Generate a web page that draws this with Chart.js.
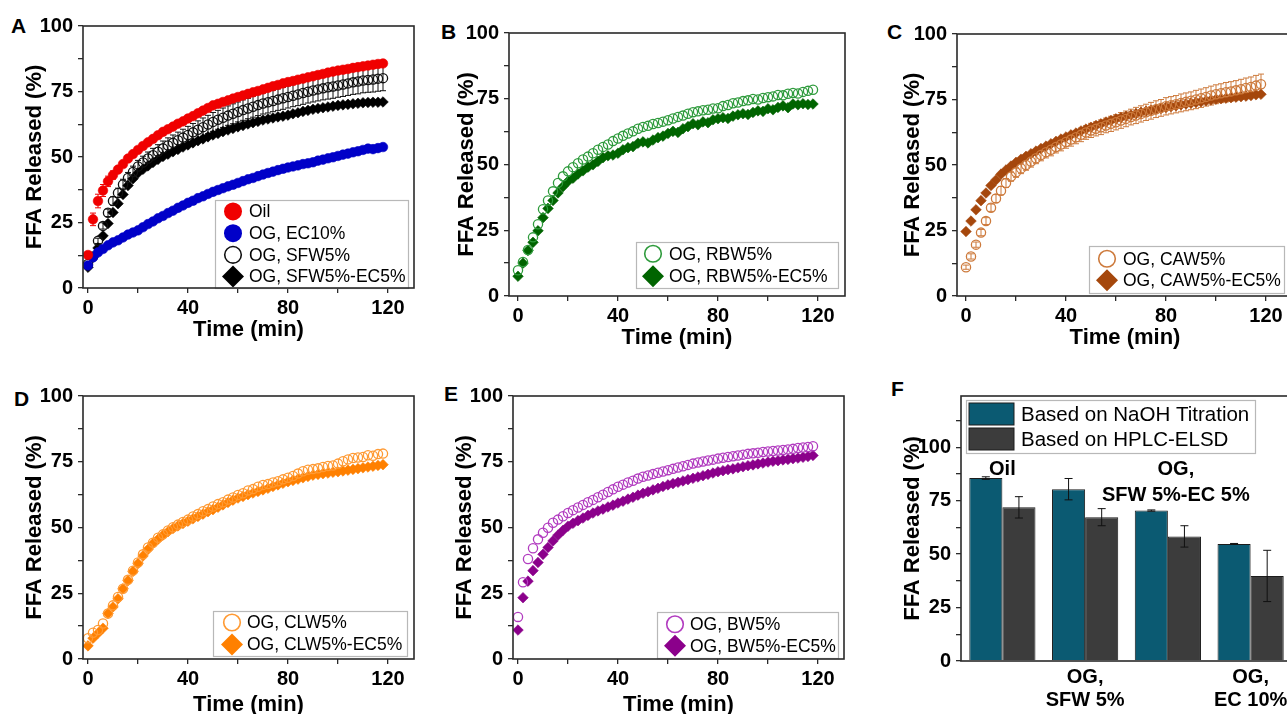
<!DOCTYPE html>
<html>
<head>
<meta charset="utf-8">
<title>FFA release</title>
<script src="https://cdn.jsdelivr.net/npm/chart.js"></script>
<style>
  html, body { margin: 0; padding: 0; background: #fff; overflow: hidden; }
  body { width: 1287px; height: 714px; position: relative; }
  canvas.panel { position: absolute; }
  .tag { position: absolute; font: bold 21px "Liberation Sans", Arial, sans-serif; color: #000; line-height: 1; }
</style>
</head>
<body>
<div class="tag" style="left:11px;top:15px">A</div>
<div class="tag" style="left:441px;top:21px">B</div>
<div class="tag" style="left:887px;top:21px">C</div>
<div class="tag" style="left:14px;top:388px">D</div>
<div class="tag" style="left:444px;top:383px">E</div>
<div class="tag" style="left:891px;top:378px">F</div>

<canvas id="chartA" class="panel"></canvas>
<canvas id="chartB" class="panel"></canvas>
<canvas id="chartC" class="panel"></canvas>
<canvas id="chartD" class="panel"></canvas>
<canvas id="chartE" class="panel"></canvas>
<canvas id="chartF" class="panel"></canvas>

<script>
// sampling times (min)
const time = [0, 2, 4, 6, 8, 10, 12, 14, 16, 18, 20, 22, 24, 26, 28, 30, 32, 34, 36, 38,
  40, 42, 44, 46, 48, 50, 52, 54, 56, 58, 60, 62, 64, 66, 68, 70, 72, 74, 76, 78,
  80, 82, 84, 86, 88, 90, 92, 94, 96, 98, 100, 102, 104, 106, 108, 110, 112, 114, 116, 118];

// FFA released (%)
const oil = [12.6, 26.2, 33.2, 37.2, 40.7, 43.1, 45.2, 47.3, 49.4, 51.1,
  52.7, 54.2, 55.6, 56.9, 58.3, 59.6, 60.6, 61.6, 62.7, 63.6,
  64.7, 65.6, 66.7, 67.7, 68.7, 69.7, 70.3, 71.0, 71.6, 72.3,
  72.9, 73.5, 74.1, 74.7, 75.2, 75.8, 76.4, 77.0, 77.5, 78.1,
  78.6, 79.0, 79.5, 79.9, 80.4, 80.8, 81.3, 81.7, 82.2, 82.6,
  83.0, 83.3, 83.6, 84.0, 84.3, 84.6, 84.9, 85.2, 85.5, 85.7];
const oilErr = [1.2, 2.4, 2.6, 2.3, 2.0, 1.6, 1.2, 1.0, 0.8, 0.6];

const ec10 = [8.6, 11.7, 13.6, 14.9, 16.3, 17.4, 18.2, 19.3, 20.4, 21.2,
  22.0, 23.2, 24.4, 25.4, 26.6, 27.5, 28.6, 29.5, 30.6, 31.5,
  32.5, 33.3, 34.3, 35.0, 35.9, 36.7, 37.4, 38.1, 38.8, 39.4,
  40.1, 40.8, 41.5, 42.0, 42.7, 43.3, 43.9, 44.4, 45.0, 45.5,
  46.0, 46.4, 46.8, 47.3, 47.6, 48.0, 48.6, 49.0, 49.5, 49.9,
  50.4, 50.9, 51.3, 51.8, 52.2, 52.7, 53.2, 53.0, 53.4, 53.8];

const sfw5 = [9.2, 12.0, 18.0, 23.7, 28.7, 33.2, 36.3, 39.5, 42.0, 44.3,
  46.4, 47.9, 49.4, 50.7, 52.0, 53.3, 54.4, 55.4, 56.4, 57.4,
  58.4, 59.4, 60.4, 61.4, 62.4, 63.4, 64.2, 65.0, 65.8, 66.5,
  67.2, 67.9, 68.5, 69.2, 69.8, 70.4, 70.9, 71.4, 71.9, 72.4,
  72.9, 73.4, 73.9, 74.4, 74.9, 75.4, 75.8, 76.2, 76.6, 76.9,
  77.3, 77.7, 78.1, 78.5, 78.8, 79.2, 79.4, 79.6, 79.9, 80.1];
const sfw5Err = [0.5, 0.8, 1.0, 1.2, 1.4, 1.6, 1.8, 2.0, 2.1, 2.2,
  2.3, 2.4, 2.5, 2.6, 2.7, 2.8, 2.9, 3.0, 3.1, 3.2,
  3.3, 3.4, 3.4, 3.5, 3.5, 3.6, 3.6, 3.7, 3.7, 3.8,
  3.8, 3.9, 3.9, 4.0, 4.0, 4.0, 4.1, 4.1, 4.1, 4.2,
  4.2, 4.2, 4.3, 4.3, 4.3, 4.4, 4.4, 4.4, 4.5, 4.5,
  4.5, 4.6, 4.6, 4.6, 4.7, 4.7, 4.7, 4.8, 4.8, 4.8];

const sfw5ec5 = [7.9, 11.7, 15.3, 19.9, 24.6, 28.8, 32.2, 35.7, 39.1, 41.7,
  43.9, 45.3, 46.6, 47.9, 49.1, 50.2, 51.1, 52.0, 52.9, 53.8,
  54.6, 55.4, 56.2, 56.9, 57.7, 58.4, 59.0, 59.7, 60.3, 60.9,
  61.5, 62.0, 62.6, 63.1, 63.6, 64.1, 64.5, 64.9, 65.3, 65.6,
  66.0, 66.5, 66.9, 67.4, 67.8, 68.2, 68.5, 68.8, 69.1, 69.4,
  69.7, 69.9, 70.1, 70.3, 70.5, 70.7, 70.8, 70.9, 70.9, 71.0];

const rbw5 = [9.8, 12.9, 17.5, 22.3, 27.3, 33.0, 36.3, 39.8, 43.0, 45.5,
  47.4, 49.0, 50.5, 51.9, 53.0, 54.3, 55.6, 56.7, 57.6, 58.9,
  59.9, 60.9, 61.8, 62.6, 63.6, 64.3, 64.7, 65.4, 65.8, 66.3,
  66.8, 67.5, 68.1, 68.6, 69.3, 69.9, 70.2, 70.6, 70.8, 71.3,
  71.4, 72.2, 72.6, 73.3, 73.6, 74.1, 74.4, 74.9, 74.7, 75.3,
  75.6, 75.9, 76.4, 76.3, 76.9, 77.2, 77.0, 77.6, 78.0, 78.4];

const rbw5ec5 = [7.5, 12.5, 17.3, 20.4, 24.8, 29.8, 33.3, 36.3, 39.2, 41.6,
  43.6, 44.8, 46.4, 47.6, 49.0, 49.9, 51.2, 52.6, 53.3, 53.6,
  54.3, 55.6, 56.4, 56.8, 58.1, 58.6, 58.2, 59.3, 60.2, 60.8,
  61.8, 62.6, 62.2, 63.6, 64.4, 65.5, 65.1, 66.2, 65.9, 67.0,
  67.4, 67.8, 67.5, 68.4, 68.9, 69.3, 69.0, 69.8, 70.4, 70.2,
  71.2, 70.8, 71.7, 72.3, 71.6, 73.0, 72.7, 73.1, 72.8, 73.0];

const caw5 = [11.0, 15.1, 19.6, 24.2, 28.6, 33.7, 37.2, 40.2, 43.1, 45.6,
  47.2, 48.7, 50.0, 51.3, 52.6, 53.8, 54.9, 55.8, 56.9, 57.8,
  58.8, 59.7, 60.6, 61.5, 62.4, 63.2, 63.8, 64.4, 65.1, 65.7,
  66.3, 67.0, 67.6, 68.3, 68.9, 69.5, 70.1, 70.7, 71.3, 71.8,
  72.4, 72.8, 73.2, 73.7, 74.1, 74.5, 75.0, 75.5, 76.0, 76.5,
  77.0, 77.4, 77.8, 78.1, 78.5, 78.9, 79.4, 79.8, 80.3, 80.8];
const caw5Err = [0.8, 1.0, 1.0, 1.2, 1.3, 1.4, 1.5, 1.6, 1.7, 1.8,
  1.9, 2.0, 2.0, 2.1, 2.1, 2.2, 2.2, 2.3, 2.3, 2.4,
  2.4, 2.5, 2.5, 2.6, 2.6, 2.7, 2.7, 2.8, 2.8, 2.9,
  2.9, 3.0, 3.0, 3.0, 3.1, 3.1, 3.1, 3.2, 3.2, 3.2,
  3.3, 3.3, 3.3, 3.4, 3.4, 3.4, 3.5, 3.5, 3.5, 3.6,
  3.6, 3.6, 3.7, 3.7, 3.7, 3.8, 3.8, 3.8, 3.9, 3.9];

const caw5ec5 = [24.6, 28.6, 32.9, 36.4, 39.3, 42.2, 44.3, 46.5, 48.1, 49.6,
  51.0, 52.2, 53.3, 54.3, 55.3, 56.3, 57.2, 58.1, 59.0, 59.9,
  60.7, 61.5, 62.2, 63.0, 63.7, 64.4, 65.1, 65.7, 66.4, 67.0,
  67.6, 68.1, 68.6, 69.1, 69.6, 70.1, 70.5, 70.9, 71.3, 71.6,
  72.0, 72.3, 72.6, 73.0, 73.3, 73.6, 73.9, 74.2, 74.5, 74.8,
  75.1, 75.3, 75.5, 75.7, 75.9, 76.1, 76.3, 76.5, 76.8, 77.0];

const clw5 = [7.9, 10.0, 11.0, 13.5, 17.3, 20.4, 23.6, 26.7, 30.1, 33.6,
  36.7, 39.8, 42.4, 44.2, 46.1, 47.4, 48.9, 50.1, 51.1, 52.1,
  53.0, 54.2, 55.1, 56.2, 57.0, 58.0, 58.9, 59.6, 60.6, 61.4,
  62.4, 63.0, 64.1, 64.6, 65.5, 66.2, 66.5, 67.1, 67.6, 68.3,
  68.9, 69.6, 70.5, 71.4, 72.0, 72.2, 72.5, 73.0, 73.4, 73.6,
  74.3, 75.2, 75.9, 76.4, 76.6, 76.8, 77.5, 77.3, 77.9, 78.1];

const clw5ec5 = [5.0, 7.9, 9.8, 11.7, 17.3, 19.8, 22.9, 26.7, 29.8, 33.3,
  36.3, 39.2, 41.7, 43.9, 45.5, 47.1, 48.4, 49.6, 50.6, 51.5,
  52.4, 53.3, 54.2, 55.1, 56.0, 56.8, 57.7, 58.6, 59.5, 60.4,
  61.2, 61.8, 62.5, 63.1, 63.7, 64.3, 64.9, 65.6, 66.2, 66.8,
  67.4, 67.9, 68.4, 68.9, 69.4, 69.9, 70.2, 70.5, 70.7, 71.0,
  71.2, 71.5, 71.8, 72.1, 72.4, 72.7, 73.0, 73.3, 73.6, 73.9];

const bw5 = [16.0, 29.2, 38.0, 42.1, 45.5, 48.0, 49.9, 51.8, 53.0, 54.3,
  55.5, 56.6, 57.6, 58.6, 59.6, 60.5, 61.5, 62.5, 63.5, 64.5,
  65.5, 66.3, 67.1, 67.8, 68.6, 69.3, 69.8, 70.3, 70.8, 71.3,
  71.8, 72.3, 72.8, 73.3, 73.8, 74.3, 74.7, 75.1, 75.5, 75.8,
  76.2, 76.5, 76.8, 77.1, 77.4, 77.7, 78.0, 78.2, 78.4, 78.7,
  78.9, 79.1, 79.3, 79.5, 79.7, 79.9, 80.2, 80.4, 80.6, 80.9];

const bw5ec5 = [11.0, 23.3, 29.6, 33.6, 36.7, 39.8, 42.4, 44.9, 47.1, 48.9,
  50.5, 51.6, 52.6, 53.6, 54.6, 55.5, 56.3, 57.0, 57.8, 58.5,
  59.3, 60.0, 60.8, 61.5, 62.3, 63.0, 63.6, 64.3, 64.9, 65.6,
  66.2, 66.7, 67.2, 67.7, 68.2, 68.7, 69.2, 69.7, 70.2, 70.7,
  71.2, 71.6, 72.0, 72.3, 72.7, 73.1, 73.5, 73.8, 74.2, 74.5,
  74.9, 75.2, 75.4, 75.7, 75.9, 76.2, 76.4, 76.7, 77.0, 77.4];

// end-point comparison (panel F)
const fGroups = ['Oil', ['OG,', 'SFW 5%'], ['OG,', 'SFW 5%-EC 5%'], ['OG,', 'EC 10%']];
const titration = [85.6, 80.4, 70.4, 54.8];
const titrationErr = [0.6, 5.0, 0.3, 0.2];
const hplc = [71.9, 67.3, 58.3, 39.8];
const hplcErr = [5.0, 4.0, 5.0, 12.0];

const FONT = '"Liberation Sans", Arial, sans-serif';
Chart.defaults.font.family = FONT;
Chart.defaults.color = '#000';

const AXIS_W = 80, XAXIS_H = 60, TOP_PAD = 14, RIGHT_PAD = 6;
const INK = '#2a2a2a';

// box around the plotting area
const frame = {
  id: 'frame',
  afterDraw(chart) {
    const { ctx, chartArea: a } = chart;
    ctx.save();
    ctx.strokeStyle = INK;
    ctx.lineWidth = 1.6;
    ctx.strokeRect(a.left, a.top, a.right - a.left, a.bottom - a.top);
    ctx.restore();
  }
};

function drawErrors(chart) {
  const { ctx } = chart;
  const ys = chart.scales.y;
  chart.data.datasets.forEach((ds, i) => {
    if (!ds.errors) return;
    const meta = chart.getDatasetMeta(i);
    ctx.save();
    ctx.strokeStyle = ds.errorColor || ds.borderColor;
    ctx.lineWidth = 1;
    meta.data.forEach((el, j) => {
      const e = ds.errors[j];
      if (!e) return;
      const v = typeof ds.data[j] === 'object' ? ds.data[j].y : ds.data[j];
      const yt = ys.getPixelForValue(v + e), yb = ys.getPixelForValue(v - e);
      const c = ds.capHalf || 3;
      ctx.beginPath();
      ctx.moveTo(el.x, yt); ctx.lineTo(el.x, yb);
      ctx.moveTo(el.x - c, yt); ctx.lineTo(el.x + c, yt);
      ctx.moveTo(el.x - c, yb); ctx.lineTo(el.x + c, yb);
      ctx.stroke();
    });
    ctx.restore();
  });
}

// scatter: whiskers under the symbols; bars: on top
const errorBars = {
  id: 'errorBars',
  beforeDatasetsDraw(chart) { if (chart.config.type === 'scatter') drawErrors(chart); },
  afterDatasetsDraw(chart) { if (chart.config.type !== 'scatter') drawErrors(chart); }
};

function marker(ctx, kind, x, y, r, color, lw) {
  ctx.beginPath();
  if (kind === 'diamond') {
    ctx.moveTo(x - r, y); ctx.lineTo(x, y - r); ctx.lineTo(x + r, y); ctx.lineTo(x, y + r);
    ctx.closePath();
  } else {
    ctx.arc(x, y, r, 0, Math.PI * 2);
  }
  if (kind === 'open') {
    ctx.strokeStyle = color; ctx.lineWidth = lw; ctx.stroke();
  } else {
    ctx.fillStyle = color; ctx.fill();
  }
}

// legend drawn inside the plot, framed
const boxLegend = {
  id: 'boxLegend',
  afterDatasetsDraw(chart, args, opts) {
    if (!opts || !opts.box) return;
    const { ctx, chartArea: a } = chart;
    const [bx, by, bw, bh] = opts.box;
    const x0 = a.left + bx, y0 = a.top + by;
    ctx.save();
    ctx.fillStyle = '#fff';
    ctx.fillRect(x0, y0, bw, bh);
    ctx.strokeStyle = '#b8b8b8';
    ctx.lineWidth = 1.2;
    ctx.strokeRect(x0 + 0.5, y0 + 0.5, bw, bh);
    const sets = chart.data.datasets;
    const first = y0 + (bh - sets.length * opts.rowH) / 2 + opts.rowH / 2;
    sets.forEach((ds, i) => {
      const y = first + i * opts.rowH;
      if (opts.swatch) {
        const [sw, sh] = opts.swatch;
        ctx.fillStyle = ds.backgroundColor;
        ctx.fillRect(x0 + opts.markX, y - sh / 2, sw, sh);
        ctx.strokeStyle = '#1c1c1c';
        ctx.lineWidth = 1;
        ctx.strokeRect(x0 + opts.markX, y - sh / 2, sw, sh);
      } else {
        const r = ds.kind === 'diamond' ? 11 : ds.kind === 'open' ? 8.3 : 9;
        marker(ctx, ds.kind, x0 + opts.markX, y, r, ds.borderColor, 1.6);
      }
      ctx.fillStyle = '#000';
      ctx.font = opts.font;
      ctx.textBaseline = 'middle';
      ctx.textAlign = 'left';
      ctx.fillText(ds.label, x0 + opts.textX, y + 1);
    });
    ctx.restore();
  }
};

// group names written above the bars
const innerLabels = {
  id: 'innerLabels',
  afterDatasetsDraw(chart, args, opts) {
    if (!opts || !opts.show) return;
    const { ctx } = chart;
    const xs = chart.scales.x, ys = chart.scales.y;
    ctx.save();
    ctx.font = opts.font;
    ctx.fillStyle = '#000';
    ctx.textAlign = 'center';
    ctx.textBaseline = 'middle';
    opts.show.forEach(([idx, dx]) => {
      const lines = [].concat(chart.data.labels[idx]);
      const x = xs.getPixelForValue(idx) + dx;
      const y = ys.getPixelForValue(opts.at);
      lines.forEach((t, k) => ctx.fillText(t, x, y + k * opts.lineH));
    });
    ctx.restore();
  }
};

function place(cv, area) {
  cv.width = area.R - area.L + AXIS_W + RIGHT_PAD;
  cv.height = area.B - area.T + TOP_PAD + XAXIS_H;
  cv.style.left = (area.L - AXIS_W) + 'px';
  cv.style.top = (area.T - TOP_PAD) + 'px';
}

const tickFont = { size: 20, weight: 'bold' };
const titleFont = { size: 22, weight: 'bold' };
const tickGrid = { drawOnChartArea: false, drawTicks: true, tickLength: 5, color: INK, lineWidth: 1.3 };

function yAxis(max, titlePad, labelMax) {
  return {
    min: 0, max,
    border: { display: false },
    grid: tickGrid,
    ticks: {
      stepSize: 12.5, autoSkip: false, padding: 5, font: tickFont, color: '#000',
      includeBounds: false,
      callback: v => (v % 25 === 0 && v <= labelMax) ? v : ''
    },
    title: { display: true, text: 'FFA Released (%)', font: titleFont, color: '#000', padding: { top: titlePad, bottom: 0 } },
    afterFit(s) { s.width = AXIS_W; }
  };
}

function timeAxis(min, max, titlePad) {
  return {
    type: 'linear', min, max,
    border: { display: false },
    grid: tickGrid,
    ticks: {
      stepSize: 20, autoSkip: false, includeBounds: false, maxRotation: 0,
      padding: 3, font: tickFont, color: '#000',
      callback: v => (v % 40 === 0) ? v : ''
    },
    title: { display: true, text: 'Time (min)', font: titleFont, color: '#000', padding: { top: 0, bottom: titlePad } },
    afterFit(s) { s.height = XAXIS_H; }
  };
}

function series(label, values, color, kind, errors) {
  return {
    label, kind, errors,
    data: time.map((t, i) => ({ x: t, y: values[i] })),
    pointStyle: kind === 'diamond' ? 'rectRot' : 'circle',
    pointRadius: kind === 'diamond' ? 5.3 : kind === 'open' ? 4.6 : 4.8,
    backgroundColor: kind === 'open' ? 'rgba(255,255,255,0)' : color,
    borderColor: color,
    borderWidth: kind === 'open' ? 1.3 : 0.6,
    capHalf: 3
  };
}

function timePanel(id, area, xMin, xMax, datasets, legend, yPad, xPad) {
  const cv = document.getElementById(id);
  place(cv, area);
  return new Chart(cv, {
    type: 'scatter',
    data: { datasets },
    options: {
      responsive: false, animation: false, devicePixelRatio: 1,
      layout: { padding: { top: TOP_PAD, right: RIGHT_PAD, left: 0, bottom: 0 } },
      plugins: { legend: { display: false }, tooltip: { enabled: false }, boxLegend: legend },
      scales: { x: timeAxis(xMin, xMax, xPad), y: yAxis(100, yPad, 100) }
    },
    plugins: [errorBars, boxLegend, frame]
  });
}

const legendFont = '17.5px ' + FONT;

timePanel('chartA', { L: 83, T: 23, R: 414, B: 288 }, -2, 130.4, [
  series('Oil', oil, '#f00000', 'dot', oilErr),
  series('OG, EC10%', ec10, '#0000c8', 'dot'),
  series('OG, SFW5%', sfw5, '#111111', 'open', sfw5Err),
  series('OG, SFW5%-EC5%', sfw5ec5, '#000000', 'diamond')
], { box: [132, 174, 193, 88], rowH: 21.7, markX: 18, textX: 34, font: legendFont }, 18.8, 4.8);

timePanel('chartB', { L: 509, T: 30, R: 845, B: 296 }, -3.6, 130.8, [
  series('OG, RBW5%', rbw5, '#2e9b3c', 'open'),
  series('OG, RBW5%-EC5%', rbw5ec5, '#006400', 'diamond')
], { box: [127, 209, 202, 46], rowH: 22.5, markX: 17, textX: 33, font: legendFont }, 24.8, 4.8);

timePanel('chartC', { L: 957, T: 31, R: 1293, B: 296 }, -3.6, 130.8, [
  series('OG, CAW5%', caw5, '#cd7a3c', 'open', caw5Err),
  series('OG, CAW5%-EC5%', caw5ec5, '#a5470c', 'diamond')
], { box: [132, 212, 195, 47], rowH: 21.5, markX: 18, textX: 34, font: legendFont }, 22.8, 4.8);

timePanel('chartD', { L: 83, T: 393, R: 414, B: 659 }, -2, 130.4, [
  series('OG, CLW5%', clw5, '#ff9a33', 'open'),
  series('OG, CLW5%-EC5%', clw5ec5, '#ff8000', 'diamond')
], { box: [130, 215, 194, 45], rowH: 22, markX: 19, textX: 34, font: legendFont }, 18.8, 1);

timePanel('chartE', { L: 513, T: 393, R: 844, B: 659 }, -2, 130.4, [
  series('OG, BW5%', bw5, '#b23cc0', 'open'),
  series('OG, BW5%-EC5%', bw5ec5, '#8b008b', 'diamond')
], { box: [144, 216, 181, 46], rowH: 21.5, markX: 18, textX: 33, font: legendFont }, 18.8, 1);

// panel F: bars with error whiskers
(function () {
  const area = { L: 961, T: 393, R: 1292, B: 661 };
  const cv = document.getElementById('chartF');
  place(cv, area);
  const groupFont = { size: 20, weight: 'bold', lineHeight: 1.15 };
  new Chart(cv, {
    type: 'bar',
    data: {
      labels: fGroups,
      datasets: [
        { label: 'Based on NaOH Titration', data: titration, errors: titrationErr,
          backgroundColor: '#0b5a72', borderColor: '#1c1c1c', borderWidth: 1,
          errorColor: '#111', capHalf: 4 },
        { label: 'Based on HPLC-ELSD', data: hplc, errors: hplcErr,
          backgroundColor: '#3c3c3c', borderColor: '#1c1c1c', borderWidth: 1,
          errorColor: '#111', capHalf: 4 }
      ]
    },
    options: {
      responsive: false, animation: false, devicePixelRatio: 1,
      layout: { padding: { top: TOP_PAD, right: RIGHT_PAD, left: 0, bottom: 0 } },
      datasets: { bar: { categoryPercentage: 0.8, barPercentage: 1.0 } },
      plugins: {
        legend: { display: false }, tooltip: { enabled: false },
        boxLegend: { box: [5, 4, 289, 53], rowH: 25, markX: 3, textX: 55, swatch: [45, 22], font: '20.5px ' + FONT },
        innerLabels: { show: [[0, 0], [2, 8]], at: 89.6, lineH: 26, font: 'bold 20px ' + FONT }
      },
      scales: {
        x: {
          type: 'category', offset: true,
          grid: { display: false, drawTicks: false }, border: { display: false },
          ticks: {
            autoSkip: false, maxRotation: 0, padding: 5, font: groupFont, color: '#000',
            callback: (v, i) => (i % 2 === 0 ? '' : fGroups[i])
          },
          afterFit(s) { s.height = XAXIS_H; }
        },
        y: yAxis(124, 18.8, 100)
      }
    },
    plugins: [errorBars, innerLabels, boxLegend, frame]
  });
})();
</script>
</body>
</html>
